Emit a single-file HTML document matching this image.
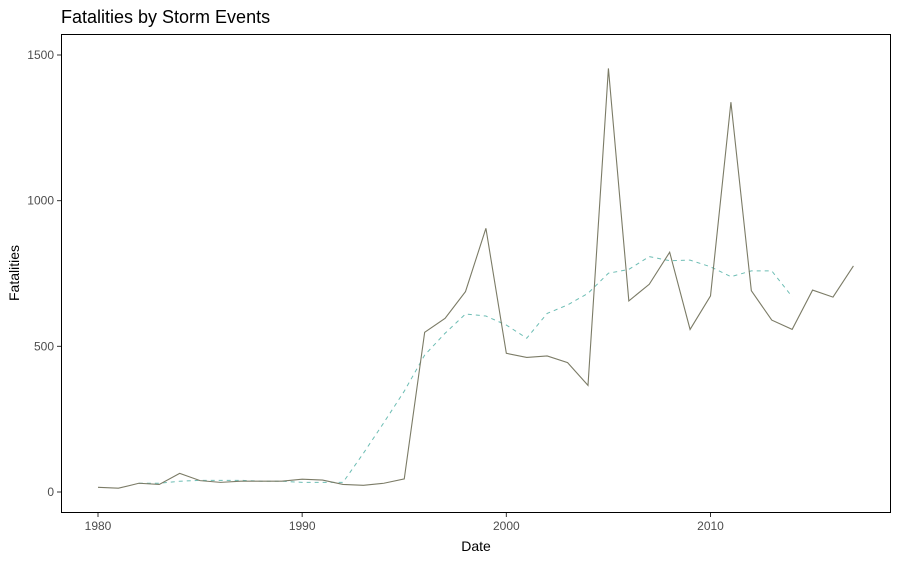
<!DOCTYPE html>
<html><head><meta charset="utf-8"><style>
body{margin:0;background:#fff;font-family:"Liberation Sans",sans-serif}
</style></head><body>
<svg width="899" height="558" xmlns="http://www.w3.org/2000/svg">
<rect width="899" height="558" fill="#fff"/>
<text x="61" y="23" font-size="18" fill="#000">Fatalities by Storm Events</text>
<rect x="61.5" y="34.5" width="829" height="478" fill="none" stroke="#000" stroke-width="1"/>
<g id="yaxis"></g>
<g id="xaxis"></g>
<g id="series"></g>
<text x="476" y="551" font-size="14" text-anchor="middle" fill="#000">Date</text>
<text transform="translate(19,273) rotate(-90)" font-size="14" text-anchor="middle" fill="#000">Fatalities</text>
</svg>
<script>
const years=[1980,1981,1982,1983,1984,1985,1986,1987,1988,1989,1990,1991,1992,1993,1994,1995,1996,1997,1998,1999,2000,2001,2002,2003,2004,2005,2006,2007,2008,2009,2010,2011,2012,2013,2014,2015,2016,2017];
const fatalities=[16,13,30,26,64,39,33,37,37,37,44,41,26,23,30,45,548,596,688,905,476,462,467,444,366,1454,656,713,823,558,673,1338,691,590,558,693,669,776];
const maYears=[1982,1983,1984,1985,1986,1987,1988,1989,1990,1991,1992,1993,1994,1995,1996,1997,1998,1999,2000,2001,2002,2003,2004,2005,2006,2007,2008,2009,2010,2011,2012,2013,2014];
const movingAvg=[30,30,37,40,40,40,37,37,33,33,33,133,238,346,470,545,611,604,573,528,613,642,682,751,764,808,794,796,773,739,759,759,670];
const yTicks=[0,500,1000,1500];
const xTicks=[1980,1990,2000,2010];
const NS="http://www.w3.org/2000/svg";
function xs(v){return 98+(v-1980)*(710.5-98)/30;}
function ys(v){return 492-v*(492-55)/1500;}
function mk(tag,attrs,parent){const e=document.createElementNS(NS,tag);for(const k in attrs)e.setAttribute(k,attrs[k]);parent.appendChild(e);return e;}
const ya=document.getElementById('yaxis'),xa=document.getElementById('xaxis'),sg=document.getElementById('series');
yTicks.forEach(t=>{
  const l=mk('line',{x1:57,x2:61,y1:ys(t),y2:ys(t),stroke:'#333'},ya);
  
  
  const tx=mk('text',{x:54,y:ys(t)+4,'font-size':12,'text-anchor':'end',fill:'#4d4d4d'},ya);
  tx.textContent=t;
  
  
});
xTicks.forEach(t=>{
  const l=mk('line',{x1:xs(t),x2:xs(t),y1:513,y2:517,stroke:'#333'},xa);
  
  
  const tx=mk('text',{x:xs(t),y:530,'font-size':12,'text-anchor':'middle',fill:'#4d4d4d'},xa);
  tx.textContent=t;
  
  
});
const ma=mk('polyline',{points:maYears.map((y,i)=>xs(y)+','+ys(movingAvg[i])).join(' '),fill:'none',stroke:'#6dbdb4','stroke-width':1,'stroke-dasharray':'4,4'},sg);


const fl=mk('polyline',{points:years.map((y,i)=>xs(y)+','+ys(fatalities[i])).join(' '),fill:'none',stroke:'#7b7b66','stroke-width':1.1},sg);


</script>
</body></html>
